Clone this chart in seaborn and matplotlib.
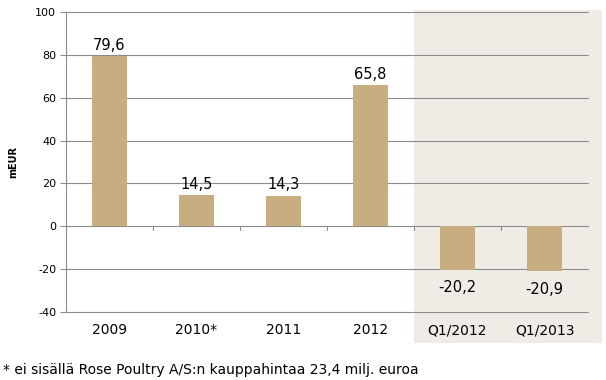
import matplotlib
matplotlib.use("Agg")
import matplotlib.pyplot as plt
import seaborn as sns
import pandas as pd
from matplotlib.patches import Rectangle

categories = ["2009", "2010*", "2011", "2012", "Q1/2012", "Q1/2013"]
values = [79.6, 14.5, 14.3, 65.8, -20.2, -20.9]
y_ticks = [-40, -20, 0, 20, 40, 60, 80, 100]
footnote = "* ei sisällä Rose Poultry A/S:n kauppahintaa 23,4 milj. euroa"

bar_color = "#c8ad80"
shade_color = "#f0ece5"
grid_color = "#8c8c8c"

sns.set_theme(style="white")
plt.rcParams["font.family"] = ["DejaVu Sans"]
plt.rcParams["text.color"] = "black"

df = pd.DataFrame({"period": categories, "value": values})

fig = plt.figure(figsize=(6.06, 3.8), dpi=100)
ax = fig.add_axes([66 / 606, 1 - 312 / 380, 522 / 606, 300 / 380])

# shaded quarter block, reaching past the axes down over the labels
ax.add_patch(Rectangle((3.5, -54.5), 2.16, 155.5, facecolor=shade_color,
                       edgecolor="none", clip_on=False, zorder=0))

sns.barplot(data=df, x="period", y="value", color=bar_color, width=0.4,
            saturation=1, edgecolor="none", linewidth=0, ax=ax, zorder=2)

ax.set_ylim(-40, 100)
ax.set_xlim(-0.5, 5.5)
ax.set_yticks(y_ticks)
for t in y_ticks:
    ax.axhline(t, color=grid_color, lw=0.8, zorder=1, clip_on=False)

# little ticks on the zero line between categories
for xb in [0.5, 1.5, 2.5, 3.5, 4.5, 5.5]:
    ax.plot([xb, xb], [0, -1.9], color=grid_color, lw=0.8, zorder=1)

for i, v in enumerate(values):
    txt = f"{v:.1f}".replace(".", ",")
    if v >= 0:
        ax.text(i, v + 1.5, txt, ha="center", va="bottom", fontsize=10.5,
                color="black")
    else:
        ax.text(i, v - 5, txt, ha="center", va="top", fontsize=10.5,
                color="black")

for s in ["top", "right", "bottom"]:
    ax.spines[s].set_visible(False)
ax.spines["left"].set_color(grid_color)
ax.spines["left"].set_linewidth(0.8)
ax.spines["left"].set_zorder(3)
ax.patch.set_alpha(0)

ax.tick_params(axis="y", left=True, length=4, width=0.8, color=grid_color,
               labelsize=8, pad=3, labelcolor="black")
ax.tick_params(axis="x", bottom=False, length=0, labelsize=10, pad=8,
               labelcolor="black")
ax.set_yticklabels([str(t) for t in y_ticks])
ax.set_xlabel("")
ax.set_ylabel("mEUR", fontsize=7, fontweight="bold", labelpad=12,
              color="black")

fig.text(3 / 606, 1 - 370 / 380, footnote, fontsize=10, va="center",
         ha="left", color="black")

fig.savefig("out.png", dpi=100)
